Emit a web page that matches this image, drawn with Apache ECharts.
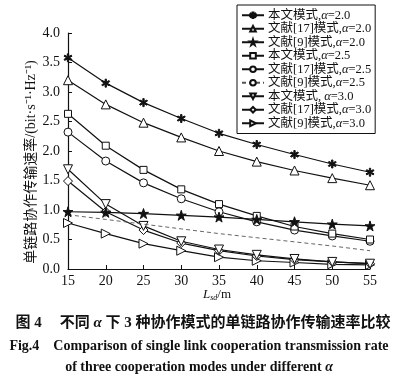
<!DOCTYPE html>
<html><head><meta charset="utf-8">
<script src="https://cdn.jsdelivr.net/npm/echarts@6/dist/echarts.min.js"></script>
<style>html,body{margin:0;padding:0;background:#fff}#c{width:401px;height:375px}</style>
</head><body><div id="c"></div>
<script>
const xValues = [15, 20, 25, 30, 35, 40, 45, 50, 55];
const oursA20 = [3.58, 3.15, 2.82, 2.55, 2.30, 2.11, 1.94, 1.78, 1.64];
const ref17A20 = [3.20, 2.79, 2.48, 2.23, 2.00, 1.82, 1.67, 1.54, 1.42];
const ref9A20 = [0.97, 0.96, 0.94, 0.91, 0.88, 0.84, 0.80, 0.76, 0.73];
const oursA25 = [2.63, 2.09, 1.68, 1.35, 1.10, 0.90, 0.72, 0.60, 0.50];
const ref17A25 = [2.32, 1.83, 1.46, 1.19, 0.97, 0.80, 0.66, 0.56, 0.47];
const ref9A25 = [0.92, 0.84, 0.76, 0.68, 0.60, 0.53, 0.46, 0.39, 0.31];
const oursA30 = [1.69, 1.10, 0.73, 0.47, 0.33, 0.24, 0.17, 0.12, 0.09];
const ref17A30 = [1.49, 0.97, 0.66, 0.44, 0.31, 0.22, 0.16, 0.12, 0.09];
const ref9A30 = [0.78, 0.60, 0.43, 0.31, 0.20, 0.14, 0.11, 0.08, 0.07];
const seriesNames = ['本文模式,α=2.0','文献[17]模式,α=2.0','文献[9]模式,α=2.0','本文模式,α=2.5','文献[17]模式,α=2.5','文献[9]模式,α=2.5','本文模式, α=3.0','文献[17]模式,α=3.0','文献[9]模式,α=3.0'];
const yTicks = [0,0.5,1,1.5,2,2.5,3,3.5,4];

const C = '#111';
const serif = "'Liberation Serif','Noto Sans CJK SC',serif";
const asterisk = 'path://M-0.15,-1 L0.15,-1 L0.15,-0.3 L0.75,-0.65 L0.9,-0.4 L0.3,0 L0.9,0.4 L0.75,0.65 L0.15,0.3 L0.15,1 L-0.15,1 L-0.15,0.3 L-0.75,0.65 L-0.9,0.4 L-0.3,0 L-0.9,-0.4 L-0.75,-0.65 L-0.15,-0.3 Z';
const star = 'path://M0,-1 L0.2245,-0.309 L0.951,-0.309 L0.363,0.118 L0.588,0.809 L0,0.382 L-0.588,0.809 L-0.363,0.118 L-0.951,-0.309 L-0.2245,-0.309 Z';
const data = [oursA20, ref17A20, ref9A20, oursA25, ref17A25, ref9A25, oursA30, ref17A30, ref9A30];
const marks = [
  {symbol: asterisk, size: 8, fill: C},
  {symbol: 'triangle', size: 9, fill: '#fff'},
  {symbol: star, size: 10, fill: C},
  {symbol: 'rect', size: 7, fill: '#fff'},
  {symbol: 'circle', size: 8, fill: '#fff'},
  {symbol: 'none', size: 0, fill: '#fff', dashed: true},
  {symbol: 'triangle', size: 9, fill: '#fff', rot: 180},
  {symbol: 'diamond', size: 9, fill: '#fff'},
  {symbol: 'triangle', size: 9, fill: '#fff', rot: -90}
];
const series = data.map((d, i) => {
  const m = marks[i];
  return {
    name: seriesNames[i], type: 'line',
    data: d.map((v, j) => [xValues[j], v]),
    symbol: m.symbol, symbolSize: m.size, symbolRotate: m.rot || 0,
    showSymbol: m.symbol !== 'none',
    lineStyle: {color: m.dashed ? '#555' : C, width: m.dashed ? 0.9 : 1.2, type: m.dashed ? [4, 3] : 'solid'},
    itemStyle: {color: m.fill, borderColor: C, borderWidth: 1},
    emphasis: {disabled: true}, animation: false, z: 10 - i
  };
});
const rich = {
  n: {fontFamily: serif, fontSize: 12.5, color: C},
  i: {fontFamily: serif, fontSize: 12.5, fontStyle: 'italic', color: C}
};
const chart = echarts.init(document.getElementById('c'), null, {renderer: 'canvas'});
chart.setOption({
  backgroundColor: '#fff',
  animation: false,
  grid: {left: 68, right: 31, top: 33, bottom: 106},
  legend: {
    orient: 'vertical', left: 237, top: 5,
    data: seriesNames,
    itemWidth: 22, itemHeight: 7, itemGap: 1,
    padding: [4, 4, 4, 4],
    borderColor: C, borderWidth: 1, backgroundColor: '#fff',
    selectedMode: false,
    formatter: n => {
      const k = n.indexOf('α');
      return '{n|' + n.slice(0, k) + '}{i|α}{n|' + n.slice(k + 1) + '}';
    },
    textStyle: {fontSize: 12.5, lineHeight: 12, padding: [0, 0, 0, -1], rich: rich}
  },
  xAxis: {
    type: 'value', min: 15, max: 55, interval: 5,
    axisLine: {lineStyle: {color: C, width: 1.2}},
    axisTick: {inside: true, length: 4, lineStyle: {color: C}},
    axisLabel: {color: C, fontFamily: serif, fontSize: 14, margin: 5},
    splitLine: {show: false}
  },
  yAxis: {
    type: 'value', min: 0, max: 4, interval: 0.5,
    axisLine: {show: true, lineStyle: {color: C, width: 1.2}},
    axisTick: {show: true, inside: true, length: 4, lineStyle: {color: C}},
    axisLabel: {color: C, fontFamily: serif, fontSize: 14, margin: 8, formatter: v => v.toFixed(1)},
    splitLine: {show: false}
  },
  graphic: [
    {type: 'text', x: 31, y: 162, rotation: Math.PI / 2, style: {
      text: '单链路协作传输速率/(bit·s⁻¹·Hz⁻¹)',
      align: 'center', verticalAlign: 'middle',
      font: "14px 'Liberation Serif','Noto Sans CJK SC'", fill: C}},
    {type: 'text', left: 203, top: 288, style: {
      text: '{i|L}{s|sd}{n|/m}',
      rich: {
        i: {fontFamily: serif, fontSize: 13, fontStyle: 'italic', fill: C},
        s: {fontFamily: serif, fontSize: 8, fontStyle: 'italic', fill: C, padding: [7, 0, 0, 0]},
        n: {fontFamily: serif, fontSize: 13, fill: C}
      }}},
    {type: 'text', x: 203, y: 323, style: {
      text: '{b|图 4}{sp|}{b|不同 }{a|α}{b| 下 3 种协作模式的单链路协作传输速率比较}',
      align: 'center', verticalAlign: 'middle',
      rich: {
        b: {fontFamily: serif, fontSize: 15, fontWeight: 'bold', fill: C},
        a: {fontFamily: serif, fontSize: 15, fontWeight: 'bold', fontStyle: 'italic', fill: C},
        sp: {width: 18}
      }}},
    {type: 'text', x: 199, y: 346, style: {
      text: 'Fig.4    Comparison of single link cooperation transmission rate',
      align: 'center', verticalAlign: 'middle',
      font: "bold 14px 'Liberation Serif'", fill: C}},
    {type: 'text', x: 199, y: 367, style: {
      text: '{b|of three cooperation modes under different }{a|α}',
      align: 'center', verticalAlign: 'middle',
      rich: {
        b: {fontFamily: serif, fontSize: 14, fontWeight: 'bold', fill: C},
        a: {fontFamily: serif, fontSize: 14, fontWeight: 'bold', fontStyle: 'italic', fill: C}
      }}}
  ],
  series: series
});
</script></body></html>
